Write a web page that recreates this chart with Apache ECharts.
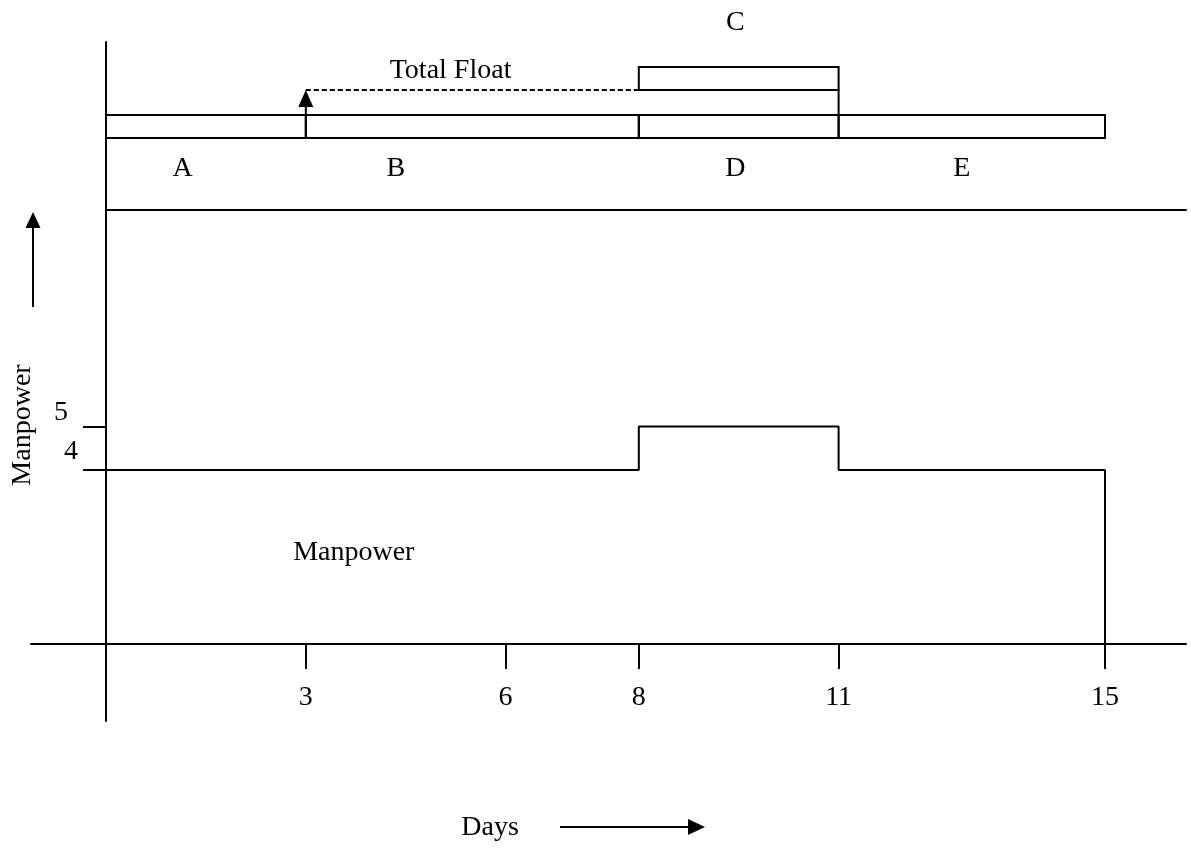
<!DOCTYPE html>
<html><head><meta charset="utf-8">
<script src="https://cdn.jsdelivr.net/npm/echarts@6/dist/echarts.min.js"></script>
<style>html,body{margin:0;padding:0;background:#fff}#c{width:1191px;height:848px}</style>
</head><body><div id="c"></div>
<script>
// ---- data ----
const activities  = ['A', 'B', 'D', 'E', 'C'];
const actStart    = [0, 3, 8, 11, 8];
const actEnd      = [3, 8, 11, 15, 11];
const actRow      = [1, 1, 1, 1, 2];
const actLabelDay = [1.15, 4.35, 9.45, 12.85, 9.45];
const actLabelRow = [0.13, 0.13, 0.13, 0.13, 3.16];
const floatStart = 3, floatEnd = 8;          // total float of C
const floatLabel = 'Total Float';
const mpDays   = [0, 8, 11, 15];
const mpLevels = [4, 5, 4];
const dayTicks = [3, 6, 8, 11, 15];
const mpTicks  = [4, 5];

const FONT = 'Liberation Serif';
const FS = 28;
const BAR_HALF = 0.24;
const MAIN_ROW = 1, C_ROW = 2;
const X_MAX = 16.216, X_MIN_FRAME = -1.126;
const Y_MAX = 13.84, Y_MIN_FRAME = -1.77;

const mpData = mpLevels.map((v, i) => [mpDays[i], v]);
mpData.push([mpDays[mpDays.length - 1], mpLevels[mpLevels.length - 1]]);
mpData.push([mpDays[mpDays.length - 1], 0]);

const black = '#000';
const txt = (s, x, y, align, extra) => Object.assign({
  type: 'text', x: x, y: y,
  style: { text: s, fill: black, font: FS + 'px "' + FONT + '"', textAlign: align || 'center', textVerticalAlign: 'middle' }
}, extra || {});
const noAxis = { axisLine: { show: false }, axisTick: { show: false }, axisLabel: { show: false }, splitLine: { show: false } };

const chart = echarts.init(document.getElementById('c'), null, { renderer: 'canvas' });
chart.setOption({
  animation: false,
  backgroundColor: '#fff',
  grid: [
    { left: 106, width: 1080, top: 42, height: 602, outerBoundsMode: 'none', containLabel: false },
    { left: 106, width: 1080, top: 42, height: 168, outerBoundsMode: 'none', containLabel: false },
    { left: 31, width: 1155, top: 42, height: 679, outerBoundsMode: 'none', containLabel: false }
  ],
  xAxis: [
    Object.assign({}, noAxis, { type: 'value', gridIndex: 0, min: 0, max: X_MAX,
      axisTick: { show: true, customValues: dayTicks, length: 25, lineStyle: { color: black, width: 2 } },
      axisLabel: { show: true, customValues: dayTicks, margin: 40, color: black, fontFamily: FONT, fontSize: FS } }),
    Object.assign({}, noAxis, { type: 'value', gridIndex: 1, min: 0, max: X_MAX, position: 'bottom',
      axisLine: { show: true, onZero: false, lineStyle: { color: black, width: 2 } } }),
    Object.assign({}, noAxis, { type: 'value', gridIndex: 2, min: X_MIN_FRAME, max: X_MAX,
      axisLine: { show: true, onZero: true, lineStyle: { color: black, width: 2 } } })
  ],
  yAxis: [
    Object.assign({}, noAxis, { type: 'value', gridIndex: 0, min: 0, max: Y_MAX,
      axisTick: { show: true, customValues: mpTicks, length: 23, lineStyle: { color: black, width: 2 } },
      axisLabel: { show: true, customValues: [4], margin: 28, color: black, fontFamily: FONT, fontSize: FS,
                   verticalAlign: 'bottom', padding: [0, 0, 4, 0] } }),
    Object.assign({}, noAxis, { type: 'value', gridIndex: 1, min: -0.74, max: 2.76 }),
    Object.assign({}, noAxis, { type: 'value', gridIndex: 2, min: Y_MIN_FRAME, max: Y_MAX,
      axisLine: { show: true, onZero: true, lineStyle: { color: black, width: 2 } } }),
    Object.assign({}, noAxis, { type: 'value', gridIndex: 0, position: 'left', min: 0, max: Y_MAX,
      axisLabel: { show: true, customValues: [5], margin: 28, color: black, fontFamily: FONT, fontSize: FS,
                   verticalAlign: 'bottom', padding: [0, 10, 0, 0] } })
  ],
  series: [
    { type: 'line', xAxisIndex: 0, yAxisIndex: 0, step: 'end', data: mpData,
      symbol: 'none', lineStyle: { color: black, width: 2 }, silent: true },
    { type: 'custom', xAxisIndex: 0, yAxisIndex: 0, data: [[2.81, 2.11]],
      renderItem: (p, api) => { const c = api.coord([api.value(0), api.value(1)]); return txt('Manpower', c[0], c[1], 'left'); } },
    { type: 'custom', xAxisIndex: 1, yAxisIndex: 1,
      data: activities.map((n, i) => [actStart[i], actEnd[i], actRow[i]]),
      renderItem: (p, api) => {
        const a = api.coord([api.value(0), api.value(2) + BAR_HALF]);
        const b = api.coord([api.value(1), api.value(2) - BAR_HALF]);
        return { type: 'rect', shape: { x: a[0], y: a[1], width: b[0] - a[0], height: b[1] - a[1] },
                 style: { fill: 'none', stroke: black, lineWidth: 2 } };
      } },
    { type: 'custom', xAxisIndex: 1, yAxisIndex: 1,
      data: activities.map((n, i) => [actLabelDay[i], actLabelRow[i]]),
      renderItem: (p, api) => { const c = api.coord([api.value(0), api.value(1)]); return txt(activities[p.dataIndex], c[0], c[1], 'center'); } },
    { type: 'custom', xAxisIndex: 1, yAxisIndex: 1, data: [[floatStart, floatEnd, actEnd[4]]],
      renderItem: (p, api) => {
        const fs = api.value(0), fe = api.value(1), ce = api.value(2);
        const lo = api.coord([fs, MAIN_ROW + BAR_HALF]);
        const hi = api.coord([fs, C_ROW - BAR_HALF]);
        const de = api.coord([fe, C_ROW - BAR_HALF]);
        const l1 = api.coord([ce, C_ROW - BAR_HALF]);
        const l2 = api.coord([ce, MAIN_ROW + BAR_HALF]);
        const tl = api.coord([4.26, 2.16]);
        return { type: 'group', children: [
          { type: 'line', shape: { x1: hi[0], y1: hi[1], x2: de[0], y2: de[1] }, style: { stroke: black, lineWidth: 2, lineDash: [5, 3] } },
          { type: 'line', shape: { x1: lo[0], y1: lo[1], x2: hi[0], y2: hi[1] + 14 }, style: { stroke: black, lineWidth: 2 } },
          { type: 'polygon', shape: { points: [[hi[0], hi[1]], [hi[0] - 7.5, hi[1] + 17], [hi[0] + 7.5, hi[1] + 17]] }, style: { fill: black } },
          { type: 'line', shape: { x1: l1[0], y1: l1[1], x2: l2[0], y2: l2[1] }, style: { stroke: black, lineWidth: 2 } },
          txt(floatLabel, tl[0], tl[1], 'left')
        ] };
      } }
  ],
  graphic: [
    txt('Manpower', 23, 425, 'center', { rotation: Math.PI / 2 }),
    { type: 'line', shape: { x1: 33, y1: 307, x2: 33, y2: 225 }, style: { stroke: black, lineWidth: 2 } },
    { type: 'polygon', shape: { points: [[33, 212], [25.5, 228], [40.5, 228]] }, style: { fill: black } },
    txt('Days', 490, 828, 'center'),
    { type: 'line', shape: { x1: 560, y1: 827, x2: 690, y2: 827 }, style: { stroke: black, lineWidth: 2 } },
    { type: 'polygon', shape: { points: [[705, 827], [688, 819], [688, 835]] }, style: { fill: black } }
  ]
});
</script>
</body></html>
